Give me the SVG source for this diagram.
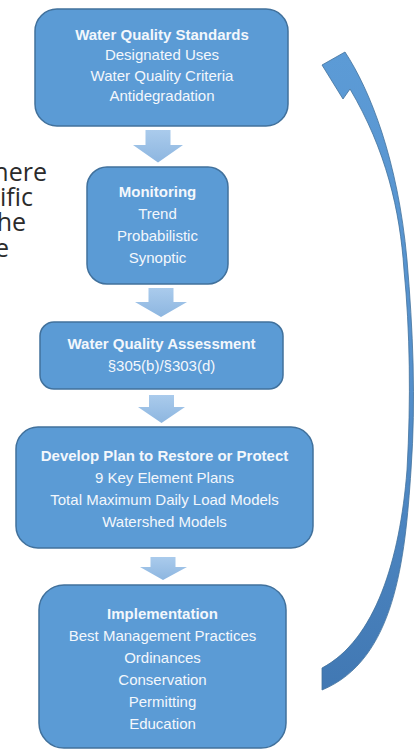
<svg xmlns="http://www.w3.org/2000/svg" width="414" height="750" viewBox="0 0 414 750">
<defs>
<linearGradient id="gDown" x1="0" y1="0" x2="0" y2="1">
<stop offset="0" stop-color="#aacbec"/>
<stop offset="1" stop-color="#8db6e0"/>
</linearGradient>
<linearGradient id="gCurve" x1="0" y1="0" x2="0" y2="1">
<stop offset="0" stop-color="#5c9bd6"/>
<stop offset="0.5" stop-color="#5590cc"/>
<stop offset="1" stop-color="#4178b3"/>
</linearGradient>
</defs>
<style>
.box{fill:#5b9bd5;stroke:#41719c;stroke-width:1.5}
.t{font-family:"Liberation Sans",Arial,sans-serif;font-size:15px;fill:#f3f7fc;text-anchor:middle}
.b{font-weight:bold}
.down{fill:url(#gDown)}
.curve{fill:url(#gCurve);stroke:#41719c;stroke-width:0.8}
.bg{font-family:"Open Sans","DejaVu Sans",sans-serif;font-size:25px;fill:#2b2b2b;text-anchor:end}
</style>
<rect width="414" height="750" fill="#ffffff"/>
<g id="bgtext">
<text class="bg" x="47" y="181">here</text>
<text class="bg" x="33" y="206">ific</text>
<text class="bg" x="26" y="231">he</text>
<text class="bg" x="9" y="257">e</text>
</g>
<g id="standards">
<rect class="box" x="35" y="9" width="253" height="117" rx="22"/>
<text class="t b" x="162" y="40">Water Quality Standards</text>
<text class="t" x="162" y="60">Designated Uses</text>
<text class="t" x="162" y="80.5">Water Quality Criteria</text>
<text class="t" x="162" y="101">Antidegradation</text>
</g>
<g id="monitoring">
<rect class="box" x="87" y="167" width="141" height="117" rx="20"/>
<text class="t b" x="157.5" y="197">Monitoring</text>
<text class="t" x="157.5" y="219">Trend</text>
<text class="t" x="157.5" y="241">Probabilistic</text>
<text class="t" x="157.5" y="263">Synoptic</text>
</g>
<g id="assessment">
<rect class="box" x="40" y="322" width="243" height="67" rx="14"/>
<text class="t b" x="161.5" y="349">Water Quality Assessment</text>
<text class="t" x="161.5" y="371">§305(b)/§303(d)</text>
</g>
<g id="plan">
<rect class="box" x="16" y="427" width="297" height="121" rx="22"/>
<text class="t b" x="164.5" y="461">Develop Plan to Restore or Protect</text>
<text class="t" x="164.5" y="483">9 Key Element Plans</text>
<text class="t" x="164.5" y="505">Total Maximum Daily Load Models</text>
<text class="t" x="164.5" y="527">Watershed Models</text>
</g>
<g id="implementation">
<rect class="box" x="39" y="585" width="247" height="163" rx="25"/>
<text class="t b" x="162.5" y="619">Implementation</text>
<text class="t" x="162.5" y="641">Best Management Practices</text>
<text class="t" x="162.5" y="663">Ordinances</text>
<text class="t" x="162.5" y="685">Conservation</text>
<text class="t" x="162.5" y="707">Permitting</text>
<text class="t" x="162.5" y="729">Education</text>
</g>
<g id="connectors">
<path class="down" d="M145.5,130 H170.5 V145 H183 L158,162.5 L133,145 H145.5 Z"/>
<path class="down" d="M148.5,288 H173.5 V302 H187 L161,317 L135,302 H148.5 Z"/>
<path class="down" d="M149,395 H174 V407 H185 L161.5,423 L138,407 H149 Z"/>
<path class="down" d="M150.5,557 H175.5 V567 H187 L163,580 L140,567 H150.5 Z"/>
<path class="curve" d="M345,52 C370,90 398,160 407,260 C413,330 416,400 411,470 C405,560 395,660 322,690 L322,668 C375,640 400,560 407,470 C411,400 410,330 404,270 C400,210 386,150 350,89 L343,99 L322,65 Z"/>
</g>
</svg>
